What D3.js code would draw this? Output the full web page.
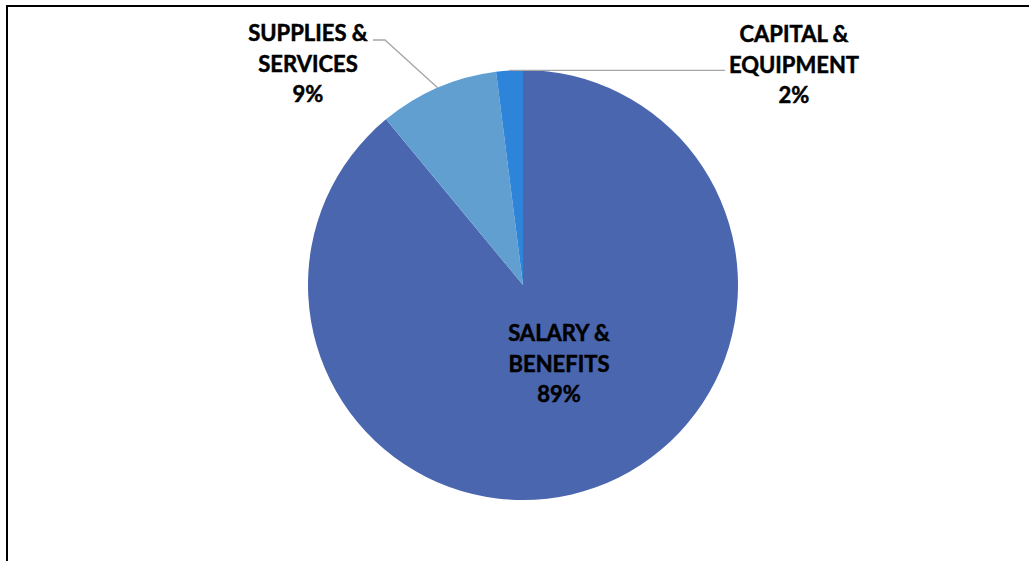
<!DOCTYPE html>
<html>
<head>
<meta charset="utf-8">
<script src="https://cdn.jsdelivr.net/npm/d3@7"></script>
<style>
  html, body { margin: 0; padding: 0; background: #fff; }
  svg { display: block; }
  text { font-family: Lato, "Open Sans", sans-serif; font-weight: bold; fill: #000; stroke: #000; stroke-width: 0.5px; }
</style>
</head>
<body>
<svg id="chart" width="1029" height="561"></svg>
<script>
// Budget breakdown by expense category (percent of total)
const categories = ["SALARY &\nBENEFITS", "SUPPLIES &\nSERVICES", "CAPITAL &\nEQUIPMENT"];
const values = [89, 9, 2];
const colors = ["#4a66ae", "#629fd1", "#2e84d8"];

const W = 1029, H = 561;
const cx = 523, cy = 285, R = 215;
const fontSize = 22, lineH = 30.5;

const svg = d3.select("#chart");

// chart frame
svg.append("rect")
  .attr("x", 7).attr("y", 6)
  .attr("width", W + 10).attr("height", H + 10)
  .attr("fill", "#fff").attr("stroke", "#000").attr("stroke-width", 2);

const pie = d3.pie().sort(null).value(d => d)(values);
const arc = d3.arc().innerRadius(0).outerRadius(R);

const g = svg.append("g").attr("transform", `translate(${cx},${cy})`);

g.selectAll("path.slice")
  .data(pie)
  .join("path")
  .attr("class", "slice")
  .attr("d", arc)
  .attr("fill", (d, i) => colors[i]);

const midA = d => (d.startAngle + d.endAngle) / 2;
const edge = (d, r) => [r * Math.sin(midA(d)), -r * Math.cos(midA(d))];

// label anchors (relative to pie centre) and leader lines for the outside labels
const labelPos = [
  { x: 36, y: 56, leader: null },
  { x: -215, y: -244, leader: d => { const p = edge(d, R); return [p, [-138, -245], [-150, -245]]; } },
  { x: 271, y: -243, leader: d => { const p = edge(d, R); return [p, [202, p[1]]]; } }
];

const line = d3.line();

pie.forEach((d, i) => {
  const lp = labelPos[i];
  if (lp.leader) {
    g.append("path")
      .attr("d", line(lp.leader(d)))
      .attr("fill", "none")
      .attr("stroke", "#a6a6a6")
      .attr("stroke-width", 1.3);
  }
  const lines = categories[i].split("\n").concat([values[i] + "%"]);
  const t = g.append("text")
    .attr("text-anchor", "middle")
    .attr("font-size", fontSize)
    .attr("x", lp.x).attr("y", lp.y);
  lines.forEach((s, k) => {
    t.append("tspan")
      .attr("x", lp.x)
      .attr("y", lp.y + k * lineH)
      .text(s);
  });
});
</script>
</body>
</html>
